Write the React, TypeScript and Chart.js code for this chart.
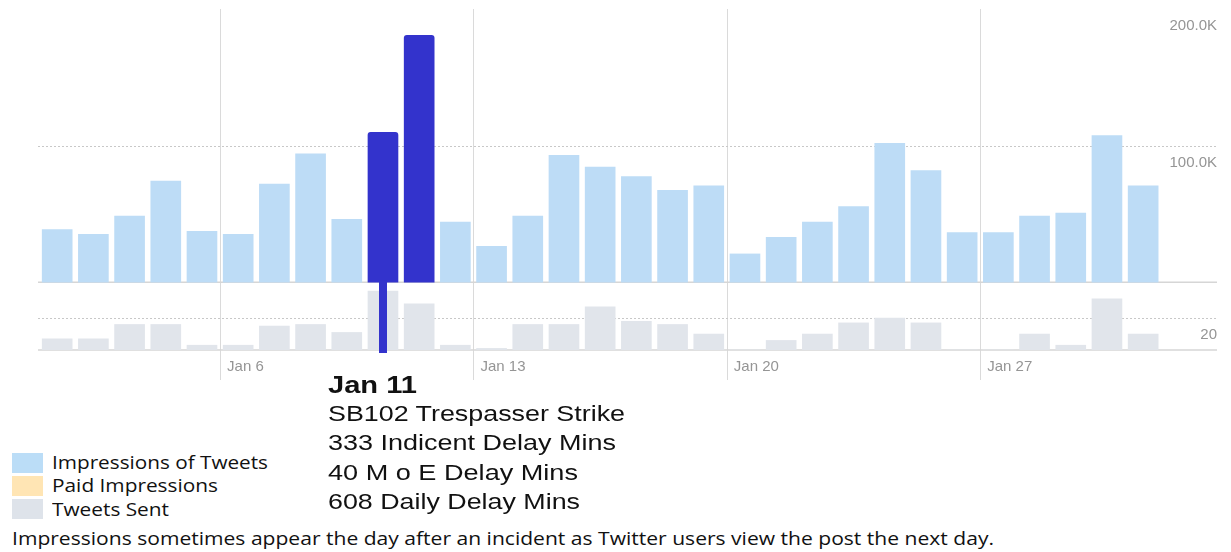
import React, { useEffect, useLayoutEffect, useRef } from 'react';
import { Chart, registerables } from 'chart.js';

Chart.register(...registerables);

// ---------------- data ----------------
const days = [
  'Jan 1', 'Jan 2', 'Jan 3', 'Jan 4', 'Jan 5', 'Jan 6', 'Jan 7', 'Jan 8', 'Jan 9', 'Jan 10',
  'Jan 11', 'Jan 12', 'Jan 13', 'Jan 14', 'Jan 15', 'Jan 16', 'Jan 17', 'Jan 18', 'Jan 19', 'Jan 20',
  'Jan 21', 'Jan 22', 'Jan 23', 'Jan 24', 'Jan 25', 'Jan 26', 'Jan 27', 'Jan 28', 'Jan 29', 'Jan 30', 'Jan 31',
];
const impressions = [
  38500, 35000, 48400, 74000, 37200, 35000, 71800, 93900, 46000, 109700,
  180800, 44000, 26300, 48400, 92900, 84200, 77400, 67200, 70600, 20700,
  32800, 44000, 55300, 101700, 81800, 36300, 36300, 48400, 50600, 107300, 70600,
];
const tweetsSent = [
  7, 7, 16, 16, 3, 3, 15, 16, 11, 37,
  29, 3, 1, 16, 16, 27, 18, 16, 10, 0,
  6, 10, 17, 20, 17, 0, 0, 10, 3, 32, 10,
];
const highlightedDays = ['Jan 10', 'Jan 11'];
const markerDay = 'Jan 10';
const xTickDays = ['Jan 6', 'Jan 13', 'Jan 20', 'Jan 27'];
const impressionTicks = [100000, 200000];
const impressionTickLabels = ['100.0K', '200.0K'];
const tweetTicks = [20];
const tweetTickLabels = ['20'];

const legendItems = ['Impressions of Tweets', 'Paid Impressions', 'Tweets Sent'];
const annotationTitle = 'Jan 11';
const annotationLines = [
  'SB102 Trespasser Strike',
  '333 Indicent Delay Mins',
  '40 M o E Delay Mins',
  '608 Daily Delay Mins',
];
const footnote =
  'Impressions sometimes appear the day after an incident as Twitter users view the post the next day.';

// ---------------- styles ----------------
const LIGHT = '#BDDCF6';
const DARK = '#3333CC';
const GRAY = '#E1E5EB';
const PEACH = '#FFE5B4';
const LEGEND_COLORS = ['#BBDDF7', PEACH, '#DEE3EA'];
const TICK_COLOR = '#959595';

const xOf = (d: string) => days.indexOf(d) + 1;

const linesPlugin = {
  id: 'panelLines',
  beforeDatasetsDraw(chart: any) {
    const { ctx, chartArea, scales } = chart;
    const x = scales.x;
    const y = scales.y;
    const y2 = scales.y2;
    ctx.save();
    // vertical week lines
    ctx.strokeStyle = '#dadada';
    ctx.lineWidth = 1;
    x.ticks.forEach((t: any) => {
      const px = Math.round(x.getPixelForValue(t.value)) + 0.5;
      ctx.beginPath();
      ctx.moveTo(px, chartArea.top);
      ctx.lineTo(px, chartArea.bottom + 30);
      ctx.stroke();
    });
    // dotted grid lines
    ctx.strokeStyle = '#c8c8c8';
    ctx.setLineDash([2, 2]);
    const dotted = [
      ...impressionTicks.filter((v) => v < y.max).map((v) => y.getPixelForValue(v)),
      ...tweetTicks.map((v) => y2.getPixelForValue(v)),
    ];
    dotted.forEach((py: number) => {
      const p = Math.round(py) + 0.5;
      ctx.beginPath();
      ctx.moveTo(chartArea.left, p);
      ctx.lineTo(chartArea.right, p);
      ctx.stroke();
    });
    // solid baselines
    ctx.setLineDash([]);
    ctx.strokeStyle = '#d6d6d6';
    ctx.lineWidth = 1.5;
    [y.getPixelForValue(0), y2.getPixelForValue(0)].forEach((py: number) => {
      ctx.beginPath();
      ctx.moveTo(chartArea.left, py);
      ctx.lineTo(chartArea.right, py);
      ctx.stroke();
    });
    ctx.restore();
  },
  afterDatasetsDraw(chart: any) {
    const { ctx, scales } = chart;
    const px = scales.x.getPixelForValue(xOf(markerDay));
    ctx.save();
    ctx.strokeStyle = DARK;
    ctx.lineWidth = 8;
    ctx.beginPath();
    ctx.moveTo(px, scales.y.getPixelForValue(0) - 2);
    ctx.lineTo(px, scales.y2.getPixelForValue(0) + 3);
    ctx.stroke();
    ctx.restore();
  },
};

function FitText(props: {
  text: string;
  left: number;
  centerY: number;
  width: number;
  family: string;
  size: number;
  weight?: number | string;
  color?: string;
}) {
  const ref = useRef<HTMLSpanElement>(null);
  useLayoutEffect(() => {
    const el = ref.current;
    if (!el) return;
    el.style.transform = 'none';
    const w = el.getBoundingClientRect().width;
    if (w > 0) el.style.transform = `scaleX(${props.width / w})`;
  }, [props.text, props.width, props.size, props.family]);
  return (
    <span
      ref={ref}
      style={{
        position: 'absolute',
        left: props.left,
        top: props.centerY - props.size * 0.5,
        whiteSpace: 'nowrap',
        fontFamily: props.family,
        fontSize: props.size,
        fontWeight: props.weight ?? 400,
        color: props.color ?? '#111',
        lineHeight: 1,
        transformOrigin: 'left center',
        display: 'inline-block',
      }}
    >
      {props.text}
    </span>
  );
}

export default function App() {
  const canvasRef = useRef<HTMLCanvasElement>(null);

  useEffect(() => {
    if (!canvasRef.current) return;
    const chart = new Chart(canvasRef.current, {
      type: 'bar',
      data: {
        datasets: [
          {
            label: 'Impressions of Tweets',
            data: days.map((d, i) => ({ x: i + 1, y: impressions[i] })),
            yAxisID: 'y',
            backgroundColor: days.map((d) => (highlightedDays.includes(d) ? DARK : LIGHT)),
            borderRadius: days.map((d) => (highlightedDays.includes(d) ? 3 : 0)) as any,
            borderSkipped: 'bottom',
            barThickness: 30,
            grouped: false,
          } as any,
          {
            label: 'Tweets Sent',
            data: days.map((d, i) => ({ x: i + 1, y: tweetsSent[i] })),
            yAxisID: 'y2',
            backgroundColor: GRAY,
            barThickness: 30,
            grouped: false,
          } as any,
        ],
      },
      options: {
        responsive: false,
        maintainAspectRatio: false,
        animation: false,
        layout: { padding: { left: 38, right: 14, top: 8, bottom: 0 } },
        plugins: { legend: { display: false }, tooltip: { enabled: false } },
        scales: {
          x: {
            type: 'linear',
            min: 0.47,
            max: 33.04,
            offset: false,
            grid: { display: false },
            border: { display: false },
            afterBuildTicks: (s: any) => {
              s.ticks = xTickDays.map((d) => ({ value: xOf(d) - 0.5 }));
            },
            afterFit: (s: any) => {
              s.height = 50;
            },
            ticks: {
              align: 'start',
              labelOffset: 7,
              padding: 0,
              autoSkip: false,
              maxRotation: 0,
              color: TICK_COLOR,
              font: { family: 'Liberation Sans', size: 15 },
              callback: (_v: any, i: number) => xTickDays[i],
            },
          } as any,
          y: {
            type: 'linear',
            position: 'right',
            min: -49635,
            max: 200000,
            grid: { display: false },
            border: { display: false },
            afterBuildTicks: (s: any) => {
              s.ticks = impressionTicks.map((v) => ({ value: v }));
            },
            afterFit: (s: any) => {
              s.width = 0;
            },
            ticks: {
              mirror: true,
              padding: 0,
              labelOffset: 17,
              color: TICK_COLOR,
              font: { family: 'Liberation Sans', size: 15 },
              callback: (_v: any, i: number) => impressionTickLabels[i],
            },
          } as any,
          y2: {
            type: 'linear',
            position: 'right',
            min: 0,
            max: 213.75,
            grid: { display: false },
            border: { display: false },
            afterBuildTicks: (s: any) => {
              s.ticks = tweetTicks.map((v) => ({ value: v }));
            },
            afterFit: (s: any) => {
              s.width = 0;
            },
            ticks: {
              mirror: true,
              padding: 0,
              labelOffset: 17,
              color: TICK_COLOR,
              font: { family: 'Liberation Sans', size: 15 },
              callback: (_v: any, i: number) => tweetTickLabels[i],
            },
          } as any,
        },
      },
      plugins: [linesPlugin],
    });
    return () => chart.destroy();
  }, []);

  const legendTops = [453, 476, 499];
  const legendCenters = [462, 485, 509];
  const legendWidths = [216, 166, 117];
  const annoCenters = [414, 443, 473, 502];
  const annoWidths = [297, 288, 250, 252];

  return (
    <div
      style={{
        position: 'absolute',
        left: 0,
        top: 0,
        width: 1231,
        height: 552,
        background: '#fff',
        overflow: 'hidden',
      }}
    >
      <canvas
        ref={canvasRef}
        width={1231}
        height={400}
        style={{ position: 'absolute', left: 0, top: 0, display: 'block' }}
      />
      <FitText
        text={annotationTitle}
        left={328}
        centerY={385}
        width={89}
        family="Liberation Sans"
        size={24}
        weight={700}
      />
      {annotationLines.map((t, i) => (
        <FitText
          key={t}
          text={t}
          left={328}
          centerY={annoCenters[i]}
          width={annoWidths[i]}
          family="Liberation Sans"
          size={22}
        />
      ))}
      {legendItems.map((t, i) => (
        <React.Fragment key={t}>
          <div
            style={{
              position: 'absolute',
              left: 12,
              top: legendTops[i],
              width: 31,
              height: 20,
              background: LEGEND_COLORS[i],
            }}
          />
          <FitText
            text={t}
            left={52}
            centerY={legendCenters[i]}
            width={legendWidths[i]}
            family="Open Sans"
            size={19}
          />
        </React.Fragment>
      ))}
      <FitText text={footnote} left={12} centerY={538} width={982} family="Open Sans" size={19} />
    </div>
  );
}
